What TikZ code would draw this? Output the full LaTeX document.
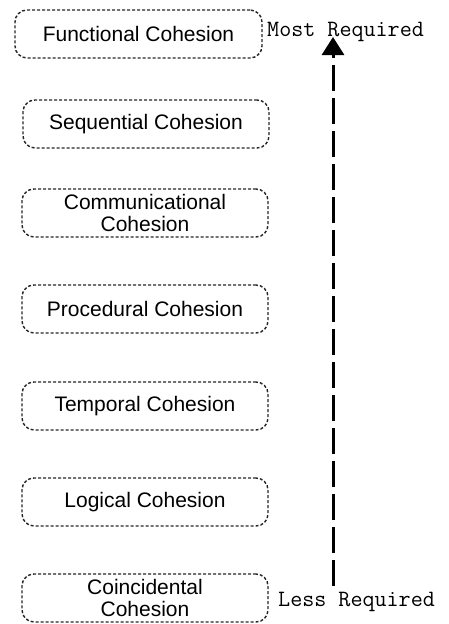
\documentclass[tikz,border=0pt]{standalone}
\usepackage{fontspec}
\setmainfont{Liberation Sans}
\usetikzlibrary{arrows.meta}
\begin{document}
\begin{tikzpicture}[x=1pt,y=-1pt,
  cbox/.style={draw=black!85, line width=1.4pt, dash pattern=on 3pt off 2pt,
    rounded corners=12pt, minimum width=246pt, minimum height=48pt,
    inner sep=0pt, align=center, text=black,
    font=\fontsize{21}{21.5}\selectfont},
  lbl/.style={anchor=west, inner sep=0pt, text=black,
    font=\ttfamily\fontsize{23.4}{24}\selectfont},
  bigarrow/.style={line width=3pt, dash pattern=on 26pt off 7pt,
    -{Triangle[length=18pt,width=22pt]}}]
\useasboundingbox (0,0) rectangle (448,624);
\node[cbox, minimum width=247pt] (fun) at (138.5,34) {Functional Cohesion};
\node[cbox] (seq) at (146,124) {Sequential Cohesion};
\node[cbox] (com) at (145,213) {Communicational\\Cohesion};
\node[cbox] (pro) at (145,309) {Procedural Cohesion};
\node[cbox] (tem) at (145,406) {Temporal Cohesion};
\node[cbox] (log) at (145,502) {Logical Cohesion};
\node[cbox] (coi) at (145,598) {Coincidental\\Cohesion};
\node[lbl] (most) at (267,32) {Most Required};
\node[lbl] (less) at (278,602) {Less Required};
\coordinate (abot) at (333,586);
\coordinate (atop) at (333,37);
\draw[bigarrow] (abot) -- (atop);
\end{tikzpicture}
\end{document}
